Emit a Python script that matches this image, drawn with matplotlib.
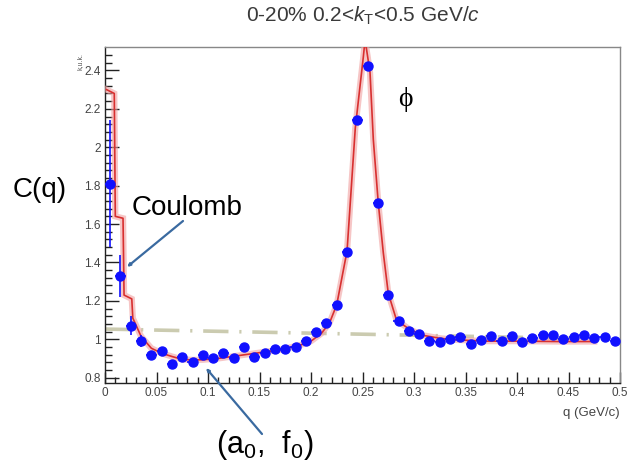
import matplotlib
matplotlib.use("Agg")
import matplotlib.pyplot as plt
import numpy as np

plt.rcParams['font.family'] = ['Liberation Sans', 'DejaVu Sans']
plt.rcParams['mathtext.fontset'] = 'custom'
plt.rcParams['mathtext.rm'] = 'Liberation Sans'
plt.rcParams['mathtext.it'] = 'Liberation Sans:italic'

# Correlation function data (bin centres in GeV/c)
q_data = [0.005, 0.015, 0.025, 0.035, 0.045, 0.055, 0.065, 0.075, 0.085, 0.095,
          0.105, 0.115, 0.125, 0.135, 0.145, 0.155, 0.165, 0.175, 0.185, 0.195,
          0.205, 0.215, 0.225, 0.235, 0.245, 0.255, 0.265, 0.275, 0.285, 0.295,
          0.305, 0.315, 0.325, 0.335, 0.345, 0.355, 0.365, 0.375, 0.385, 0.395,
          0.405, 0.415, 0.425, 0.435, 0.445, 0.455, 0.465, 0.475, 0.485, 0.495]
c_data = [1.81, 1.33, 1.07, 0.99, 0.92, 0.94, 0.87, 0.91, 0.88, 0.92,
          0.90, 0.93, 0.90, 0.96, 0.91, 0.93, 0.95, 0.95, 0.96, 0.99,
          1.04, 1.086, 1.18, 1.455, 2.142, 2.425, 1.711, 1.23, 1.095, 1.045,
          1.028, 0.99, 0.985, 1.00, 1.01, 0.975, 0.996, 1.017, 0.99, 1.017,
          0.985, 1.005, 1.022, 1.02, 1.00, 1.01, 1.022, 1.005, 1.014, 0.99]
c_err = [0.33, 0.11, 0.05, 0.03, 0.02, 0.02, 0.02, 0.02, 0.02, 0.02,
         0.015, 0.015, 0.015, 0.015, 0.015, 0.015, 0.015, 0.015, 0.015, 0.015,
         0.015, 0.015, 0.02, 0.02, 0.02, 0.02, 0.02, 0.015, 0.015, 0.015,
         0.012, 0.012, 0.012, 0.012, 0.012, 0.012, 0.012, 0.012, 0.012, 0.012,
         0.012, 0.012, 0.012, 0.012, 0.012, 0.012, 0.012, 0.012, 0.012, 0.012]
q_halfbin = 0.005

# Fit function as drawn (sampled points)
q_fit = [0.0015, 0.0090, 0.0100, 0.0175, 0.0185, 0.0260, 0.0270, 0.035, 0.045,
         0.055, 0.065, 0.075, 0.085, 0.095, 0.11, 0.13, 0.15, 0.17, 0.19, 0.20,
         0.21, 0.218, 0.225, 0.235, 0.243, 0.2508, 0.2525, 0.2573, 0.2605,
         0.2653, 0.2702, 0.275, 0.283, 0.296, 0.309, 0.325, 0.34, 0.37, 0.40,
         0.44, 0.475]
c_fit = [2.30, 2.28, 1.64, 1.63, 1.23, 1.21, 1.11, 1.015, 0.953,
         0.927, 0.91, 0.895, 0.892, 0.893, 0.90, 0.915, 0.93, 0.945, 0.97, 0.99,
         1.03, 1.085, 1.18, 1.46, 2.10, 2.47, 2.56, 2.39, 2.04,
         1.71, 1.45, 1.24, 1.10, 1.05, 1.02, 1.005, 0.997, 0.99, 0.99,
         0.988, 0.988]

# Non-femtoscopic baseline
q_base = [0.0, 0.475]
c_base = [1.053, 1.002]

W, H = 629, 470
fig = plt.figure(figsize=(W / 100, H / 100), dpi=100)
ax = fig.add_axes([105 / W, (H - 383) / H, 515 / W, 336 / H])

ax.plot(q_base, c_base, color='#cbcbb0', lw=2.6, dashes=[7, 3, 0.6, 3], zorder=2)
ax.plot(q_fit, c_fit, color='#f0a0a0', lw=4.5, alpha=0.6, zorder=3,
        solid_joinstyle='miter')
ax.plot(q_fit, c_fit, color='#d83030', lw=1.2, zorder=4)
ax.errorbar(q_data, c_data, yerr=c_err, xerr=q_halfbin, fmt='o', color='#1010ff',
            ms=6.5, mec='#1010ff', elinewidth=1.2, capsize=0, zorder=5)

ax.set_xlim(0, 0.5)
ax.set_ylim(0.772, 2.522)
ax.set_xticks(np.arange(0, 0.501, 0.05))
ax.set_xticklabels(['0', '0.05', '0.1', '0.15', '0.2', '0.25', '0.3', '0.35',
                    '0.4', '0.45', '0.5'])
ax.set_yticks(np.arange(0.8, 2.41, 0.2))
ax.set_yticklabels(['0.8', '1', '1.2', '1.4', '1.6', '1.8', '2', '2.2', '2.4'])
ax.set_xticks(np.arange(0, 0.501, 0.01), minor=True)
ax.set_yticks(np.arange(0.8, 2.52, 0.04), minor=True)

ax.tick_params(axis='both', which='both', direction='in', colors='#222222',
               labelcolor='#444444', labelsize=8.5)
ax.tick_params(axis='x', which='major', length=8, width=1, pad=3)
ax.tick_params(axis='x', which='minor', length=4, width=1)
ax.tick_params(axis='y', which='major', length=10, width=1, pad=3)
ax.tick_params(axis='y', which='minor', length=5, width=1)
ax.tick_params(top=False, right=False, which='both')

for side in ('left', 'bottom'):
    ax.spines[side].set_color('#222222')
    ax.spines[side].set_linewidth(1.0)
for side in ('top', 'right'):
    ax.spines[side].set_color('#888888')
    ax.spines[side].set_linewidth(1.0)

ax.text(1.0, -0.07, 'q (GeV/c)', transform=ax.transAxes, ha='right', va='top',
        fontsize=9.5, color='#444444')
fig.text(80 / W, 1 - 62 / H, 'k,u.k.', rotation=90, ha='center', va='center',
         fontsize=5, color='#555555')

fig.text(363 / W, 1 - 16 / H, r'0-20% 0.2<$k_{\mathrm{T}}$<0.5 GeV/$c$',
         ha='center', va='center', fontsize=15, color='#3a3a3a')

fig.text(40 / W, 1 - 190 / H, 'C(q)', ha='center', va='center', fontsize=20,
         color='black')
fig.text(187 / W, 1 - 208 / H, 'Coulomb', ha='center', va='center', fontsize=20,
         color='black')
fig.text(405 / W, 1 - 100 / H, 'ϕ', ha='center', va='center', fontsize=20,
         family=['Liberation Serif', 'DejaVu Serif'], color='black')
fig.text(265 / W, 1 - 445 / H, r'(a$_0$,  f$_0$)', ha='center', va='center',
         fontsize=22, color='black')

arrow_kw = dict(arrowstyle='-|>,head_length=1.6,head_width=0.75', color='#3a6aa0',
                lw=1.6, shrinkA=0, shrinkB=0)
fig.patches.append(matplotlib.patches.FancyArrowPatch(
    (183, H - 221), (127, H - 267), transform=None, **arrow_kw))
fig.patches.append(matplotlib.patches.FancyArrowPatch(
    (262, H - 434), (206, H - 368), transform=None, **arrow_kw))

fig.savefig('out.png', dpi=100)
